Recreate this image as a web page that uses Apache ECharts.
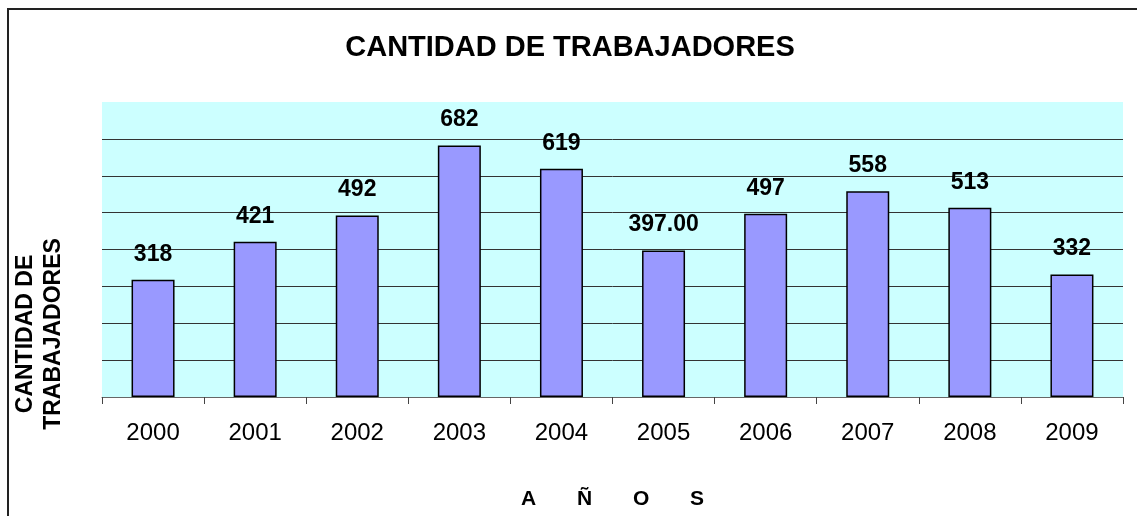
<!DOCTYPE html>
<html>
<head>
<meta charset="utf-8">
<script src="https://cdn.jsdelivr.net/npm/echarts@6/dist/echarts.min.js"></script>
<style>
html,body{margin:0;padding:0;background:#fff;}
#chart{width:1137px;height:516px;}
</style>
</head>
<body>
<div id="chart"></div>
<script>
var categories = ['2000','2001','2002','2003','2004','2005','2006','2007','2008','2009'];
var values = [318, 421, 492, 682, 619, 397, 497, 558, 513, 332];
var valueLabels = ['318','421','492','682','619','397.00','497','558','513','332'];
var titleText = 'CANTIDAD DE TRABAJADORES';
var yTitle = 'CANTIDAD DE\nTRABAJADORES';
var xTitle = 'A       Ñ       O       S';

var FONT = '"Liberation Sans", Arial, sans-serif';
var chart = echarts.init(document.getElementById('chart'), null, {renderer:'canvas'});
var gridColors = ['#333','#333','#333','#333','#333','#333','#333','#333','rgba(0,0,0,0)'];
chart.setOption({
  animation: false,
  backgroundColor: '#ffffff',
  title: {
    text: titleText,
    left: 565, top: 28, textAlign: 'center',
    textStyle: {fontFamily: FONT, fontWeight: 'bold', fontSize: 29, color: '#000'}
  },
  grid: {left: 102, right: 14, top: 102, bottom: 119, show: true, backgroundColor: '#CCFFFF', borderWidth: 0, containLabel: false, outerBoundsMode: 'none'},
  xAxis: {
    type: 'category',
    data: categories,
    boundaryGap: true,
    axisLine: {lineStyle: {color: '#666', width: 1}},
    axisTick: {show: true, length: 7, lineStyle: {color: '#444'}},
    axisLabel: {fontFamily: FONT, fontSize: 24, color: '#000', margin: 24},
    name: xTitle,
    nameLocation: 'middle',
    nameGap: 92,
    nameTextStyle: {fontFamily: FONT, fontSize: 21, fontWeight: 'bold', color: '#000'}
  },
  yAxis: {
    type: 'value',
    min: 0, max: 800, interval: 100,
    axisLabel: {show: false},
    axisLine: {show: false},
    axisTick: {show: false},
    splitLine: {show: true, lineStyle: {color: gridColors, width: 1}}
  },
  graphic: [
    {type: 'rect', shape: {x: 8, y: 9, width: 1400, height: 700}, style: {fill: 'none', stroke: '#222', lineWidth: 2}, silent: true},
    {type: 'text', x: 40, y: 334, rotation: Math.PI/2,
     style: {text: yTitle, font: 'bold 23px ' + FONT, fill: '#000', align: 'center', verticalAlign: 'middle', lineHeight: 28}}
  ],
  series: [{
    type: 'bar',
    data: values,
    barWidth: 43,
    itemStyle: {color: '#9999FF', borderColor: '#000', borderWidth: 1.5},
    label: {
      show: true, position: 'top', distance: 14,
      fontFamily: FONT, fontSize: 23, fontWeight: 'bold', color: '#000',
      formatter: function(p){ return valueLabels[p.dataIndex]; }
    }
  }]
});
</script>
</body>
</html>
